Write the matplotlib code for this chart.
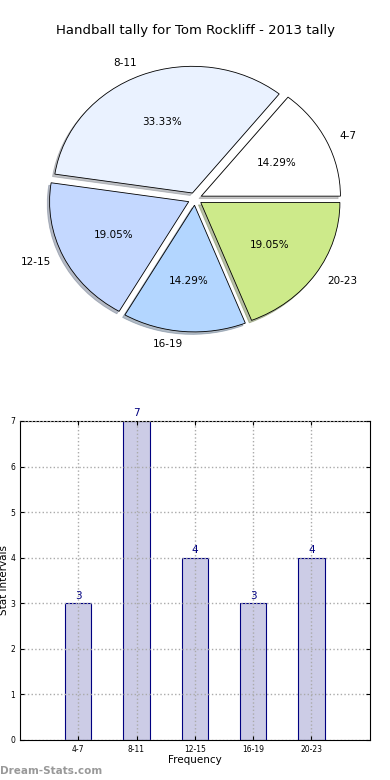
import numpy as np
import matplotlib
matplotlib.use("Agg")
import matplotlib.pyplot as plt

# data
categories = ["4-7", "8-11", "12-15", "16-19", "20-23"]
counts = [3, 7, 4, 3, 4]
pie_colors = ["#FFFFFF", "#EAF2FF", "#C4D8FF", "#B3D6FF", "#CDEA8A"]
title = "Handball tally for Tom Rockliff - 2013 tally"

fig = plt.figure(figsize=(3.9, 7.8), dpi=100)

# pie on top (not equal aspect, so it comes out as an ellipse)
ax1 = fig.add_axes([0.054, 0.542, 0.892, 0.406])
ax1.pie(counts, labels=categories, colors=pie_colors, explode=[0.05] * len(counts),
        autopct="%1.2f%%", startangle=0,
        shadow={"ox": -0.012, "oy": -0.014, "shade": 0.45},
        wedgeprops={"edgecolor": "black", "linewidth": 0.6},
        textprops={"fontsize": 7.5})
ax1.set_aspect("auto")
ax1.set_xlim(-1.25, 1.25)
ax1.set_ylim(-1.25, 1.25)
ax1.set_title(title, fontsize=9.5, pad=5)

# bar chart below
ax2 = fig.add_axes([0.051, 0.0513, 0.897, 0.409])
x = np.arange(len(categories))
bars = ax2.bar(x, counts, width=0.45, color="#CCCCE6", edgecolor="navy", linewidth=0.8, zorder=2)
for b, v in zip(bars, counts):
    ax2.text(b.get_x() + b.get_width() / 2, v + 0.06, str(v), ha="center", va="bottom",
             color="navy", fontsize=7.5)
ax2.set_xlim(-1, 5)
ax2.set_ylim(0, 7)
ax2.set_xticks(x)
ax2.set_xticklabels(categories, fontsize=5.5)
ax2.set_yticks(range(8))
ax2.tick_params(axis="y", labelsize=5.5)
ax2.tick_params(direction="in", top=True, right=True, length=3)
ax2.grid(True, linestyle=":", color="#AAAAAA", linewidth=1)
ax2.set_axisbelow(False)
ax2.set_xlabel("Frequency", fontsize=7.5, labelpad=1)
ax2.set_ylabel("Stat Intervals", fontsize=7.5, labelpad=1)

fig.text(0.0, 0.005, "Dream-Stats.com", color="#999999", fontsize=7.5, fontweight="bold",
         ha="left", va="bottom")

fig.savefig("out.png", dpi=100)
